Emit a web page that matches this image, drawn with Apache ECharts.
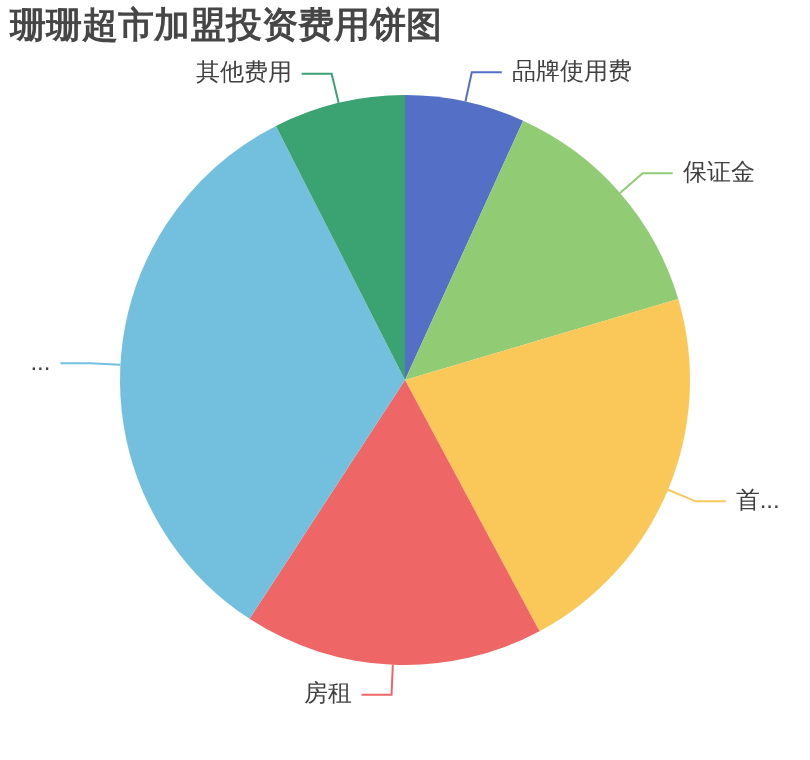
<!DOCTYPE html>
<html>
<head>
<meta charset="utf-8">
<script src="https://cdn.jsdelivr.net/npm/echarts@6/dist/echarts.min.js"></script>
<style>
html,body{margin:0;padding:0;background:#fff;}
#main{width:810px;height:760px;}
</style>
</head>
<body>
<div id="main"></div>
<script>
const titleText = '珊珊超市加盟投资费用饼图';
const categories = ['品牌使用费', '保证金', '首批进货费', '房租', '装修费用', '其他费用'];
const values = [1, 2, 3.2, 2.5, 4.9, 1.1];
const palette = ['#5470c6', '#91cc75', '#fac858', '#ee6666', '#73c0de', '#3ba272'];

const chart = echarts.init(document.getElementById('main'));
chart.setOption({
  animation: false,
  color: palette,
  title: {
    text: titleText,
    left: 5,
    top: 4,
    textStyle: { fontSize: 36, fontWeight: 'bold', color: '#464646' }
  },
  series: [{
    type: 'pie',
    radius: '75%',
    center: ['50%', '50%'],
    data: categories.map((n, i) => ({ name: n, value: values[i] })),
    label: { fontSize: 24, color: '#404040', distanceToLabelLine: 10 },
    labelLine: { length: 30, length2: 30, lineStyle: { width: 2 } }
  }]
});
</script>
</body>
</html>
